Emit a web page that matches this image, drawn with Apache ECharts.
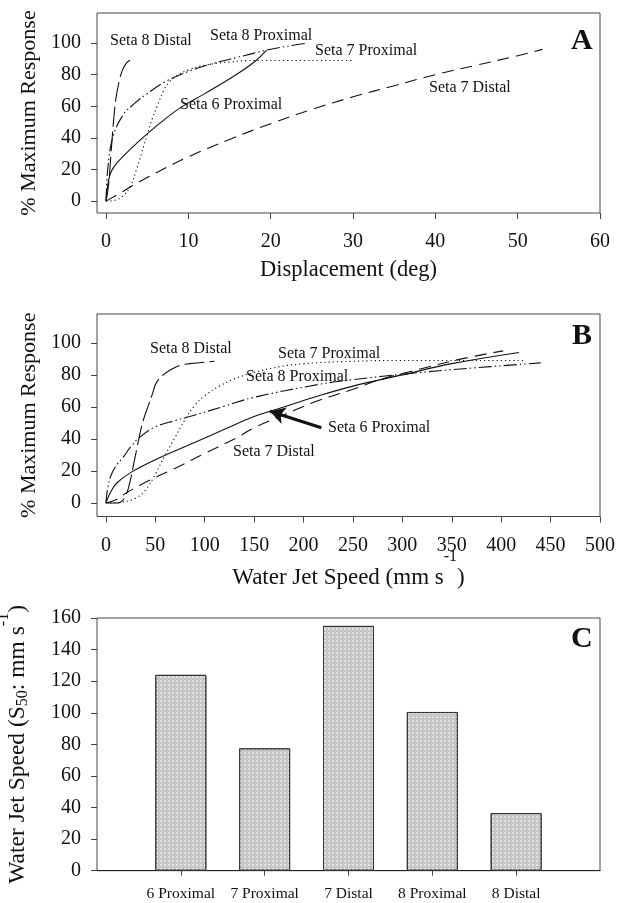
<!DOCTYPE html>
<html>
<head>
<meta charset="utf-8">
<script src="https://cdn.jsdelivr.net/npm/echarts@6/dist/echarts.min.js"></script>
<style>
html,body{margin:0;padding:0;background:#fff;}
#chart{width:629px;height:903px;}
</style>
</head>
<body>
<div id="chart"></div>
<script>
// ---------- Panel A: response vs displacement (deg) ----------
const a6Prox  = [[0,0],[0.2,10],[0.5,17],[1,22],[2,28],[4,38],[6,47],[9,59],[12,68],[15.5,79],[18,88],[19.5,95.5]];
const a7Prox  = [[0,0],[1,0.5],[2,3],[3,10],[3.7,20],[4.3,30],[5,42],[5.6,52],[6.2,60],[7,70],[7.6,75],[8.5,79],[10,83],[12,86],[15,88],[18,89],[30,89]];
const a7Dist  = [[0,0],[2,6],[5,15],[10,28],[15,39],[20,49],[25,58],[30,66],[35,73],[40,80],[45,86],[50,92],[53,96]];
const a8Prox  = [[0,0],[0.2,20],[0.8,40],[2,54],[3.5,62],[5,68],[7,75],[10,82],[13,87],[16,91],[19.5,95.5],[22,98],[24.5,100]];
const a8Dist  = [[0,0],[0.3,10],[0.6,30],[0.9,50],[1.2,65],[1.6,76],[2,83],[2.5,87.5],[3.1,89.5]];
const aXTicks = [0,10,20,30,40,50,60];
const aYTicks = [0,20,40,60,80,100];

// ---------- Panel B: response vs water jet speed ----------
const b6Prox  = [[0,0],[5,7],[11,12.5],[25,19],[50,27],[85,36.5],[120,46],[150,54],[180,60],[213,66.5],[250,73],[300,80],[350,87],[418,94]];
const b7Prox  = [[0,0],[15,0.5],[30,3],[40,8],[50,18],[60,30],[70,41],[80,52],[90,61],[100,67],[115,73],[130,77.5],[150,81.5],[175,85],[200,87],[250,88.5],[300,89],[425,89]];
const b7Dist  = [[0,0],[10,2],[17,5],[34,11],[50,16],[68,21],[100,31],[130,40],[150,47],[180,55],[213,63.5],[250,71],[280,77.5],[320,84],[360,90],[402,95]];
const b8Prox  = [[0,0],[2,10],[5,17],[10,23],[18,29],[25,35],[35,41.5],[50,47.5],[70,51.5],[85,54],[120,60.5],[150,66],[215,74],[250,77],[310,81],[365,84],[440,87.5]];
const b8Dist  = [[0,0],[10,0],[15,0.5],[21,6],[25,15],[28,24],[31,33],[34,42],[38,52],[43,61],[47,68],[51,75],[58,80],[65,83],[75,86],[85,87],[110,88.5]];
const bXTicks = [0,50,100,150,200,250,300,350,400,450,500];
const bYTicks = [0,20,40,60,80,100];
const arrowB  = [[218,47],[166,57.3]];

// ---------- Panel C: S50 bars ----------
const cCategories = ['6 Proximal','7 Proximal','7 Distal','8 Proximal','8 Distal'];
const cValues     = [124, 77.5, 155, 100.5, 36.5];

const FONT = '"Liberation Serif","Times New Roman",serif';
const INK = '#111';
const FRAME = '#444';

const chart = echarts.init(document.getElementById('chart'), null, {renderer:'canvas'});

function lineSeries(name, data, xi, dash, extra){
  return Object.assign({
    type:'line', name, data, xAxisIndex:xi, yAxisIndex:xi,
    showSymbol:false, symbol:'none', smooth:0.4,
    lineStyle:{color:INK, width:1.1, type:dash}, silent:true, animation:false, z:3
  }, extra||{});
}
const DASH_LONG = [20,5];
const DASH_MED = [12,7];
const DASH_DOT2 = [13,3,1.5,3,1.5,3];
const DOT = [1.2,3];

function valueAxis(gi, min, max, ticks, extra){
  return Object.assign({
    type:'value', gridIndex:gi, min, max, nameMoveOverlap:false,
    axisLine:{show:false, onZero:false},
    axisTick:{show:true, inside:false, length:6, customValues:ticks, lineStyle:{color:FRAME}},
    axisLabel:{customValues:ticks, fontFamily:FONT, fontSize:20, color:INK},
    splitLine:{show:false},
    nameTextStyle:{fontFamily:FONT, fontSize:22, color:INK}
  }, extra||{});
}

function txt(text, left, top, size, bold){
  return {type:'text', left, top, silent:true,
    style:{text, fontFamily:FONT, fontSize:size||16, fontWeight:bold?'bold':'normal', fill:INK}};
}

const catsPadded = [''].concat(cCategories).concat(['']);
const valsPadded = ['-'].concat(cValues).concat(['-']);

const gridBase = {show:true, borderColor:FRAME, borderWidth:1, backgroundColor:'transparent', outerBoundsMode:'none', containLabel:false};

const option = {
  backgroundColor:'#fff',
  animation:false,
  grid:[
    Object.assign({left:97, top:13, width:503, height:200}, gridBase),
    Object.assign({left:97, top:314, width:503, height:202.5}, gridBase),
    Object.assign({left:97, top:618, width:503, height:252.7}, gridBase)
  ],
  xAxis:[
    valueAxis(0, -1.1, 60, aXTicks, {name:'Displacement (deg)', nameLocation:'middle', nameGap:46,
      axisLabel:{customValues:aXTicks, fontFamily:FONT, fontSize:20, color:INK, margin:19},
      nameTextStyle:{fontFamily:FONT, fontSize:22.5, color:INK}}),
    valueAxis(1, -9, 500, bXTicks, {
      name:'{a|Water Jet Speed (mm s}{b|-1}{a|)}', nameLocation:'middle', nameGap:32,
      axisLabel:{customValues:bXTicks, fontFamily:FONT, fontSize:20, color:INK, margin:19},
      nameTextStyle:{fontFamily:FONT, fontSize:23, color:INK, rich:{
        a:{fontFamily:FONT, fontSize:23, lineHeight:24, verticalAlign:'bottom', color:INK},
        b:{fontFamily:FONT, fontSize:16, padding:[0,0,25,0], verticalAlign:'top', color:INK}
      }}}),
    {type:'category', gridIndex:2, data:catsPadded, boundaryGap:false, nameMoveOverlap:false,
      axisLine:{show:true, onZero:false, lineStyle:{color:'#222', width:1.2}},
      axisTick:{show:true, length:5, interval:function(i){return i>0 && i<catsPadded.length-1;}, lineStyle:{color:FRAME}},
      axisLabel:{interval:0, fontFamily:FONT, fontSize:15.5, color:INK, margin:15},
      splitLine:{show:false}}
  ],
  yAxis:[
    valueAxis(0, -7.5, 119, aYTicks, {name:'% Maximum Response', nameLocation:'middle', nameRotate:90, nameGap:57,
      axisLabel:{customValues:aYTicks, fontFamily:FONT, fontSize:20, color:INK, margin:16}}),
    valueAxis(1, -8.4, 118, bYTicks, {name:'% Maximum Response', nameLocation:'middle', nameRotate:90, nameGap:57,
      axisLabel:{customValues:bYTicks, fontFamily:FONT, fontSize:20, color:INK, margin:16}}),
    {type:'value', gridIndex:2, min:0, max:160, interval:20, nameMoveOverlap:false,
      axisLine:{show:false, onZero:false},
      axisTick:{show:true, length:6, lineStyle:{color:FRAME}},
      axisLabel:{fontFamily:FONT, fontSize:20, color:INK, margin:16},
      splitLine:{show:false},
      name:'{a|Water Jet Speed (S}{sub|50}{a|: mm s}{sup|-1}{a|)}', nameLocation:'middle', nameRotate:90, nameGap:57,
      nameTextStyle:{fontFamily:FONT, fontSize:23.5, color:INK, rich:{
        a:{fontFamily:FONT, fontSize:23.5, lineHeight:26, verticalAlign:'middle', color:INK},
        sub:{fontFamily:FONT, fontSize:16, padding:[10,0,0,0], verticalAlign:'middle', color:INK},
        sup:{fontFamily:FONT, fontSize:16, padding:[0,0,28,0], verticalAlign:'middle', color:INK}
      }}}
  ],
  series:[
    lineSeries('Seta 6 Proximal A', a6Prox, 0, 'solid'),
    lineSeries('Seta 7 Proximal A', a7Prox, 0, DOT),
    lineSeries('Seta 7 Distal A', a7Dist, 0, DASH_MED),
    lineSeries('Seta 8 Proximal A', a8Prox, 0, DASH_DOT2),
    lineSeries('Seta 8 Distal A', a8Dist, 0, DASH_LONG),
    lineSeries('Seta 6 Proximal B', b6Prox, 1, 'solid', {
      markLine:{silent:true, symbol:['none','arrow'], symbolSize:[13,15], animation:false,
        label:{show:false}, lineStyle:{color:INK, width:3, type:'solid'},
        data:[[{coord:arrowB[0]},{coord:arrowB[1]}]]}
    }),
    lineSeries('Seta 7 Proximal B', b7Prox, 1, DOT),
    lineSeries('Seta 7 Distal B', b7Dist, 1, DASH_MED),
    lineSeries('Seta 8 Proximal B', b8Prox, 1, DASH_DOT2),
    lineSeries('Seta 8 Distal B', b8Dist, 1, DASH_LONG),
    {type:'bar', name:'S50', xAxisIndex:2, yAxisIndex:2, data:valsPadded, barWidth:51,
      itemStyle:{color:'#c6c6c6', borderColor:'#333', borderWidth:1,
        decal:{symbol:'rect', symbolSize:1, color:'rgba(255,255,255,0.45)', dashArrayX:[[2,2]], dashArrayY:[2,2], rotation:0}},
      silent:true, animation:false}
  ],
  graphic:[
    // Panel A annotations
    txt('Seta 8 Distal', 110, 33),
    txt('Seta 8 Proximal', 210, 28),
    txt('Seta 7 Proximal', 315, 43),
    txt('Seta 6 Proximal', 180, 97),
    txt('Seta 7 Distal', 429, 80),
    txt('A', 571, 26, 30, true),
    // Panel B annotations
    txt('Seta 8 Distal', 150, 341),
    txt('Seta 7 Proximal', 278, 346),
    txt('Seta 8 Proximal', 246, 369),
    txt('Seta 6 Proximal', 328, 420),
    txt('Seta 7 Distal', 233, 444),
    txt('B', 572, 321, 30, true),
    // Panel C annotation
    txt('C', 571, 624, 30, true)
  ]
};
chart.setOption(option);
</script>
</body>
</html>
